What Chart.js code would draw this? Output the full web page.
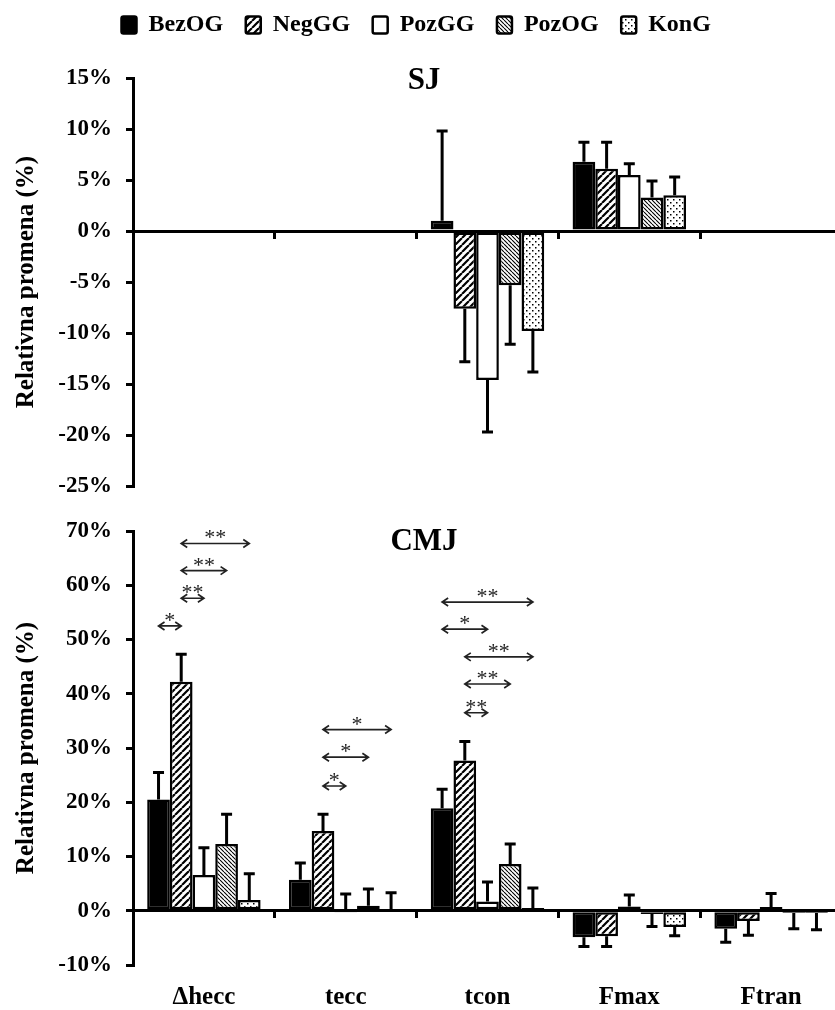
<!DOCTYPE html>
<html>
<head>
<meta charset="utf-8">
<script src="https://cdn.jsdelivr.net/npm/chart.js@4.4.0/dist/chart.umd.min.js"></script>
<style>
  html, body { margin: 0; padding: 0; background: #fff; overflow: hidden; }
  #wrap { position: relative; width: 835px; height: 1010px; overflow: hidden; }
  canvas { position: absolute; left: 0; }
  #sj { top: 0; }
  #cmj { top: 500px; }
</style>
</head>
<body>
<div id="wrap">
  <canvas id="sj" width="842" height="514"></canvas>
  <canvas id="cmj" width="842" height="510"></canvas>
</div>
<script>
var categories = ['\u0394hecc', 'tecc', 'tcon', 'Fmax', 'Ftran'];
var groups = ['BezOG', 'NegGG', 'PozGG', 'PozOG', 'KonG'];

// SJ: relative change (%) per group, only tcon and Fmax measured
var sjBezOG = [null, null, 1.0, 6.8, null];
var sjNegGG = [null, null, -7.6, 6.1, null];
var sjPozGG = [null, null, -14.6, 5.5, null];
var sjPozOG = [null, null, -5.3, 3.3, null];
var sjKonG  = [null, null, -9.8, 3.5, null];
// signed SD (drawn one way only)
var sjErrBezOG = [null, null, 8.8, 1.9, null];
var sjErrNegGG = [null, null, -5.2, 2.6, null];
var sjErrPozGG = [null, null, -5.1, 1.1, null];
var sjErrPozOG = [null, null, -5.8, 1.6, null];
var sjErrKonG  = [null, null, -4.0, 1.8, null];

// CMJ
var cmjBezOG = [20.5, 5.7, 18.9, -4.9, -3.3];
var cmjNegGG = [42.2, 14.7, 27.7, -4.7, -1.9];
var cmjPozGG = [6.6, -0.2, 1.7, 0.8, 0.7];
var cmjPozOG = [12.3, 0.9, 8.6, -0.6, -0.4];
var cmjKonG  = [2.0, 0.3, 0.5, -3.0, -0.4];
var cmjErrBezOG = [5.0, 3.1, 3.5, -1.7, -2.5];
var cmjErrNegGG = [5.1, 3.1, 3.5, -1.9, -2.6];
var cmjErrPozGG = [5.0, 3.3, 3.6, 2.1, 2.5];
var cmjErrPozOG = [5.5, 3.1, 3.7, -2.3, -2.9];
var cmjErrKonG  = [4.8, 3.0, 3.7, -1.6, -3.1];

var sjTicks = { min: -25, max: 15, step: 5 };
var cmjTicks = { min: -10, max: 70, step: 10 };

// significance brackets on CMJ: category, group from, group to, level (%), mark
var sigCategory = [0, 0, 0, 0, 1, 1, 1, 2, 2, 2, 2, 2];
var sigFrom     = [0, 1, 1, 1, 1, 1, 1, 0, 0, 1, 1, 1];
var sigTo       = [1, 2, 3, 4, 2, 3, 4, 4, 2, 4, 3, 2];
var sigLevel    = [52.5, 57.6, 62.7, 67.7, 23.0, 28.3, 33.4, 56.9, 51.9, 46.8, 41.8, 36.5];
var sigText     = ['*', '**', '**', '**', '*', '*', '*', '**', '*', '**', '**', '**'];

var serif = "'Liberation Serif', 'Times New Roman', serif";

function tile(size, draw) {
  var c = document.createElement('canvas');
  c.width = size; c.height = size;
  var g = c.getContext('2d');
  g.fillStyle = '#fff';
  g.fillRect(0, 0, size, size);
  g.strokeStyle = '#000';
  g.fillStyle = '#000';
  draw(g, size);
  return g.createPattern(c, 'repeat');
}

var fills = [
  '#000',
  tile(7, function (g, s) {
    g.lineWidth = 2.2;
    g.beginPath();
    [-s, 0, s].forEach(function (k) { g.moveTo(k, s); g.lineTo(k + s, 0); });
    g.stroke();
  }),
  '#fff',
  tile(4, function (g, s) {
    g.lineWidth = 1.1;
    g.beginPath();
    [-s, 0, s].forEach(function (k) { g.moveTo(k, 0); g.lineTo(k + s, s); });
    g.stroke();
  }),
  tile(6, function (g) {
    g.fillRect(1, 1, 1.5, 1.5);
    g.fillRect(4, 4, 1.5, 1.5);
  })
];

function makeDatasets(values, errors) {
  return groups.map(function (name, i) {
    return {
      label: name,
      data: values[i],
      errors: errors[i],
      xAxisID: 'x',
      backgroundColor: fills[i],
      borderColor: '#000',
      borderWidth: 2.5,
      borderSkipped: false,
      categoryPercentage: 0.8,
      barPercentage: 1.0
    };
  });
}

var errorBars = {
  id: 'errorBars',
  afterDatasetsDraw: function (chart) {
    var ctx = chart.ctx, y = chart.scales.y;
    ctx.save();
    ctx.strokeStyle = '#000';
    ctx.lineWidth = 3;
    chart.data.datasets.forEach(function (ds, i) {
      chart.getDatasetMeta(i).data.forEach(function (bar, j) {
        var v = ds.data[j], e = ds.errors[j];
        if (v == null || e == null) return;
        var y0 = y.getPixelForValue(v), y1 = y.getPixelForValue(v + e);
        ctx.beginPath();
        ctx.moveTo(bar.x, y0);
        ctx.lineTo(bar.x, y1);
        ctx.moveTo(bar.x - 5.5, y1);
        ctx.lineTo(bar.x + 5.5, y1);
        ctx.stroke();
      });
    });
    ctx.restore();
  }
};

var panelTitle = {
  id: 'panelTitle',
  afterDraw: function (chart, args, opts) {
    var ctx = chart.ctx;
    ctx.save();
    ctx.font = 'bold 31px ' + serif;
    ctx.fillStyle = '#000';
    ctx.textAlign = 'center';
    ctx.textBaseline = 'alphabetic';
    ctx.fillText(opts.text, opts.x, chart.chartArea.top + opts.dy);
    ctx.restore();
  }
};

var sigMarks = {
  id: 'sigMarks',
  afterDatasetsDraw: function (chart) {
    var ctx = chart.ctx, y = chart.scales.y;
    ctx.save();
    ctx.strokeStyle = '#222';
    ctx.fillStyle = '#222';
    ctx.lineWidth = 1.7;
    ctx.font = '22px ' + serif;
    ctx.textAlign = 'center';
    ctx.textBaseline = 'alphabetic';
    sigCategory.forEach(function (c, k) {
      var xa = chart.getDatasetMeta(sigFrom[k]).data[c].x;
      var xb = chart.getDatasetMeta(sigTo[k]).data[c].x;
      var yy = y.getPixelForValue(sigLevel[k]);
      ctx.beginPath();
      ctx.moveTo(xa, yy);
      ctx.lineTo(xb, yy);
      ctx.moveTo(xa + 6, yy - 4);
      ctx.lineTo(xa, yy);
      ctx.lineTo(xa + 6, yy + 4);
      ctx.moveTo(xb - 6, yy - 4);
      ctx.lineTo(xb, yy);
      ctx.lineTo(xb - 6, yy + 4);
      ctx.stroke();
      ctx.fillText(sigText[k], (xa + xb) / 2, yy + 1);
    });
    ctx.restore();
  }
};

// extra room between legend and the SJ plot
var legendGap = {
  id: 'legendGap',
  beforeInit: function (chart) {
    if (!chart.legend) return;
    var fit = chart.legend.fit;
    chart.legend.fit = function () {
      fit.call(this);
      this.height += 31;
    };
  }
};

function yAxis(t) {
  return {
    min: t.min,
    max: t.max,
    afterFit: function (scale) { scale.width = 133; },
    ticks: {
      stepSize: t.step,
      padding: 14,
      color: '#000',
      font: { family: serif, weight: 'bold', size: 23 },
      callback: function (v) { return v + '%'; }
    },
    grid: { drawOnChartArea: false, drawTicks: true, tickLength: 7, color: '#000', lineWidth: 3 },
    border: { color: '#000', width: 3 },
    title: {
      display: true,
      text: 'Relativna promena (%)',
      color: '#000',
      font: { family: serif, weight: 'bold', size: 25 },
      padding: { top: 12, bottom: 0 }
    }
  };
}

var zeroAxis = {
  type: 'category',
  position: { y: 0 },
  offset: true,
  ticks: { display: false },
  grid: { drawOnChartArea: false, drawTicks: true, tickLength: 6, color: '#000', lineWidth: 3, offset: true },
  border: { color: '#000', width: 3 }
};

new Chart(document.getElementById('sj'), {
  type: 'bar',
  data: {
    labels: categories,
    datasets: makeDatasets(
      [sjBezOG, sjNegGG, sjPozGG, sjPozOG, sjKonG],
      [sjErrBezOG, sjErrNegGG, sjErrPozGG, sjErrPozOG, sjErrKonG]
    )
  },
  options: {
    responsive: false,
    animation: false,
    events: [],
    layout: { padding: { top: 0, bottom: 2, left: 0, right: 0 } },
    scales: { x: zeroAxis, y: yAxis(sjTicks) },
    plugins: {
      legend: {
        labels: {
          boxWidth: 15,
          boxHeight: 17,
          useBorderRadius: true,
          borderRadius: 2,
          padding: 13,
          color: '#000',
          font: { family: serif, weight: 'bold', size: 24 },
          generateLabels: function (chart) {
            var items = Chart.defaults.plugins.legend.labels.generateLabels(chart);
            items.forEach(function (it) { it.text = it.text + '\u2009\u2009'; });
            return items;
          }
        }
      },
      tooltip: { enabled: false },
      panelTitle: { text: 'SJ', x: 424, dy: 11 }
    }
  },
  plugins: [legendGap, errorBars, panelTitle]
});

new Chart(document.getElementById('cmj'), {
  type: 'bar',
  data: {
    labels: categories,
    datasets: makeDatasets(
      [cmjBezOG, cmjNegGG, cmjPozGG, cmjPozOG, cmjKonG],
      [cmjErrBezOG, cmjErrNegGG, cmjErrPozGG, cmjErrPozOG, cmjErrKonG]
    )
  },
  options: {
    responsive: false,
    animation: false,
    events: [],
    layout: { padding: { top: 31, bottom: 0, left: 0, right: 0 } },
    scales: {
      x: zeroAxis,
      x2: {
        type: 'category',
        position: 'bottom',
        offset: true,
        afterFit: function (scale) { scale.height = 45; },
        grid: { display: false, drawTicks: false },
        border: { display: false },
        ticks: { padding: 18, color: '#000', font: { family: serif, weight: 'bold', size: 25 } }
      },
      y: yAxis(cmjTicks)
    },
    plugins: {
      legend: { display: false },
      tooltip: { enabled: false },
      panelTitle: { text: 'CMJ', x: 424, dy: 19 }
    }
  },
  plugins: [errorBars, sigMarks, panelTitle]
});
</script>
</body>
</html>
